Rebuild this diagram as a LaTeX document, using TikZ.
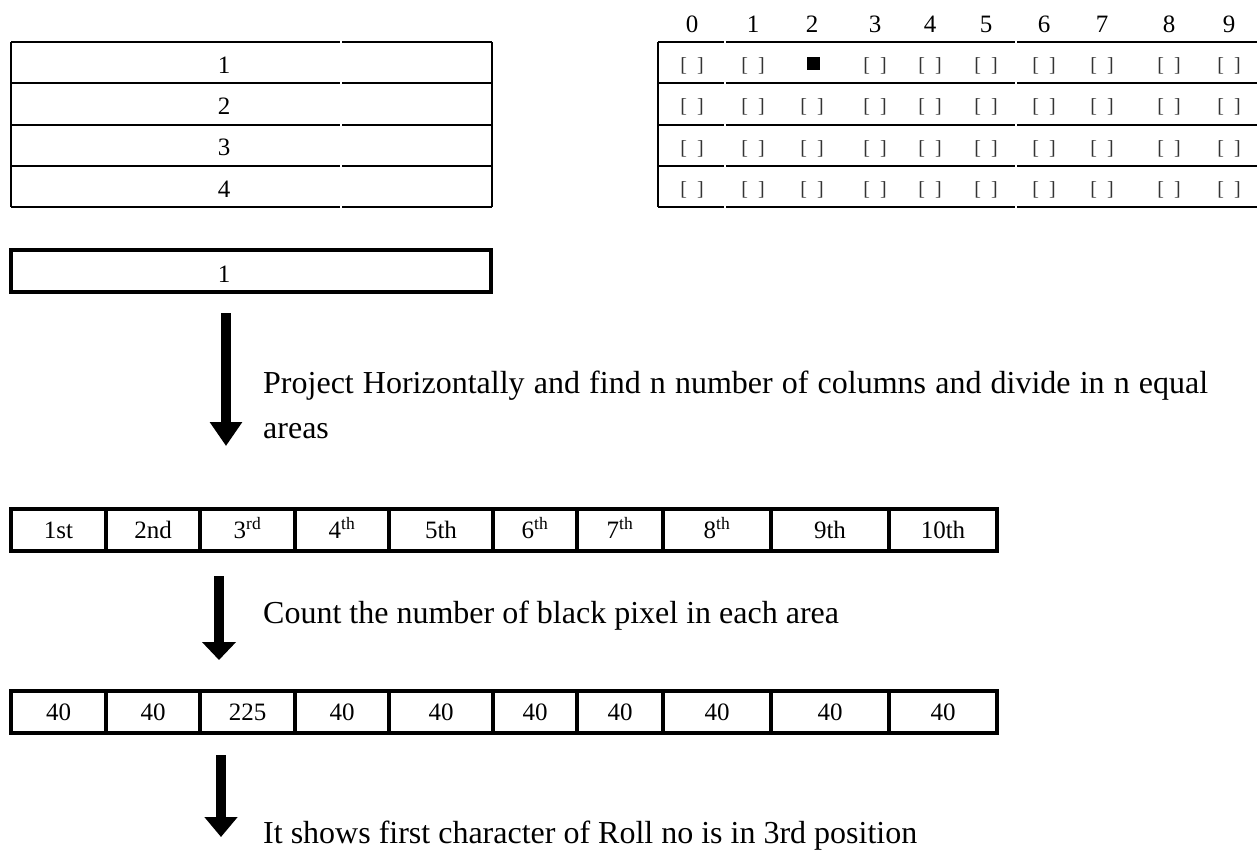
\documentclass[tikz,border=0pt]{standalone}
\usepackage{fontspec}
\setmainfont{Liberation Serif}
\usetikzlibrary{arrows.meta}
\begin{document}
\begin{tikzpicture}[x=1pt,y=-1pt,
  txt/.style={font=\fontsize{25pt}{30pt}\selectfont, inner sep=0pt},
  note/.style={font=\fontsize{32pt}{45pt}\selectfont, inner sep=0pt, anchor=base west},
  rule/.style={line width=1.5pt},
  cellbox/.style={draw, line width=4pt, inner sep=0pt, minimum height=42pt,
    text height=16.5pt, text depth=0pt, font=\fontsize{25pt}{30pt}\selectfont},
  tick/.style={font=\fontsize{20pt}{24pt}\selectfont, text=black!80, inner sep=0pt},
  flow/.style={line width=10pt},
]
\useasboundingbox (0,0) rectangle (1257,852);

% ---- left table: four roll-number rows ----
\foreach \y in {42,83,125,166,207} {
  \draw[rule] (11,\y) -- (340,\y);
  \draw[rule] (342,\y) -- (492,\y);
}
\draw[rule] (11,42) -- (11,207);
\draw[rule] (492,42) -- (492,207);
\foreach \n/\b in {1/73,2/114,3/155,4/197}
  \node[txt, anchor=base] (row\n) at (224,\b) {\n};

% ---- right table: bubble grid ----
\foreach \y in {42,83,125,166,207} {
  \draw[rule] (658,\y) -- (724,\y);
  \draw[rule] (726,\y) -- (1015,\y);
  \draw[rule] (1017,\y) -- (1257,\y);
}
\draw[rule] (658,42) -- (658,207);
\foreach \d/\x in {0/692,1/753,2/812,3/875,4/930,5/986,6/1044,7/1102,8/1169,9/1229}
  \node[txt, anchor=base] (h\d) at (\x,32) {\d};
\foreach \r/\y in {1/65.5,2/107,3/148.5,4/190} {
  \foreach \d/\x in {0/692,1/753,2/812,3/875,4/930,5/986,6/1044,7/1102,8/1169,9/1229} {
    \pgfmathtruncatemacro\k{10*\r+\d}
    \ifnum\k=12
      \node[fill=black, minimum size=13pt, inner sep=0pt] (m\r\d) at (813,63.5) {};
    \else
      \node[tick] (m\r\d) at (\x,\y) {[\hspace{10pt}]};
    \fi
  }
}

% ---- selected row ----
\node[draw, line width=4pt, minimum width=480pt, minimum height=42pt, inner sep=0pt] (sel) at (251,271) {};
\node[txt, anchor=base] (selnum) at (224,282) {1};

% ---- step 1 ----
\coordinate (a1s) at (226,313);
\coordinate (a1e) at (226,446);
\draw[flow, -{Triangle[width=31pt,length=24pt]}] (a1s) -- (a1e);
\node[note, text width=945pt, align=justify] (step1) at (263,393)
  {Project Horizontally and find n number of columns and divide in n equal\linebreak areas};

% ---- ordinal areas ----
\foreach \a/\b/\t [count=\i] in {11/106/1st,106/200/2nd,200/295/3\textsuperscript{rd},
    295/389/4\textsuperscript{th},389/493/5th,493/577/6\textsuperscript{th},
    577/663/7\textsuperscript{th},663/771/8\textsuperscript{th},771/889/9th,889/997/10th} {
  \pgfmathsetmacro\w{\b-\a}
  \pgfmathsetmacro\c{(\a+\b)/2}
  \node[cellbox, minimum width=\w pt] (ord\i) at (\c,530) {\t};
}

% ---- step 2 ----
\coordinate (a2s) at (219,576);
\coordinate (a2e) at (219,660);
\draw[flow, -{Triangle[width=33pt,length=18pt]}] (a2s) -- (a2e);
\node[note] (step2) at (263,623) {Count the number of black pixel in each area};

% ---- pixel counts ----
\foreach \a/\b/\t [count=\i] in {11/106/40,106/200/40,200/295/225,295/389/40,389/493/40,
    493/577/40,577/663/40,663/771/40,771/889/40,889/997/40} {
  \pgfmathsetmacro\w{\b-\a}
  \pgfmathsetmacro\c{(\a+\b)/2}
  \node[cellbox, minimum width=\w pt] (cnt\i) at (\c,712) {\t};
}

% ---- step 3 ----
\coordinate (a3s) at (221,755);
\coordinate (a3e) at (221,837);
\draw[flow, -{Triangle[width=32pt,length=20pt]}] (a3s) -- (a3e);
\node[note] (step3) at (263,843) {It shows first character of Roll no is in 3rd position};
\end{tikzpicture}
\end{document}
